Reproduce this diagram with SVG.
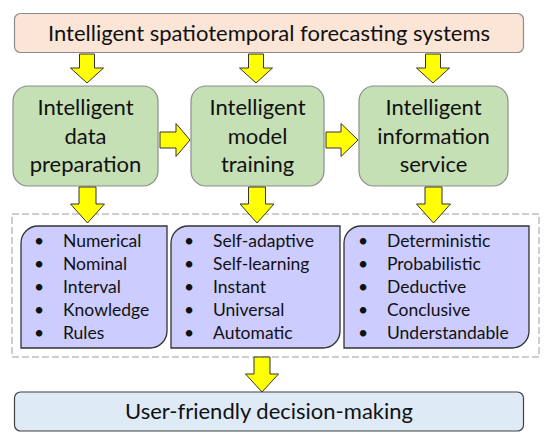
<svg xmlns="http://www.w3.org/2000/svg" width="554" height="444" viewBox="0 0 554 444">
<style>
text{font-family:Lato,"Open Sans","Liberation Sans",sans-serif;fill:#111;}
.big{font-size:22px;text-anchor:middle;}
.mid{font-size:22px;text-anchor:middle;}
.li{font-size:17.5px;}
.b{text-anchor:middle;}
.top{fill:#FBE5D6;stroke:#8C8C8C;stroke-width:1.2;}
.green{fill:#C5E0B4;stroke:#8C8C8C;stroke-width:1.2;}
.purple{fill:#CCCCFF;stroke:#333;stroke-width:1.3;}
.bottom{fill:#DEEBF7;stroke:#404040;stroke-width:1.2;}
.arrow{fill:#FFFF00;stroke:#333;stroke-width:1;stroke-linejoin:miter;}
.dash{fill:none;stroke:#BFBFBF;stroke-width:1.5;stroke-dasharray:7 3;}
</style>
<rect width="554" height="444" fill="#fff"/>
<g id="top-node">
<rect class="top" x="14.5" y="13.5" width="509" height="39" rx="6"/>
<text class="big" x="269" y="40.5">Intelligent spatiotemporal forecasting systems</text>
</g>
<g id="data-preparation">
<rect class="green" x="13" y="86" width="145" height="100" rx="15"/>
<text class="mid" x="85.5" y="115">Intelligent</text>
<text class="mid" x="85.5" y="143.5">data</text>
<text class="mid" x="85.5" y="172">preparation</text>
</g>
<g id="model-training">
<rect class="green" x="191" y="86" width="133" height="100" rx="15"/>
<text class="mid" x="257.5" y="115">Intelligent</text>
<text class="mid" x="257.5" y="143.5">model</text>
<text class="mid" x="257.5" y="172">training</text>
</g>
<g id="information-service">
<rect class="green" x="359" y="86" width="149" height="100" rx="15"/>
<text class="mid" x="433.5" y="115">Intelligent</text>
<text class="mid" x="433.5" y="143.5">information</text>
<text class="mid" x="433.5" y="172">service</text>
</g>
<g id="group-box">
<rect class="dash" x="12" y="214" width="527" height="143"/>
</g>
<g id="data-types">
<path class="purple" d="M38 226H167V331A17 17 0 0 1 150 348H21V243A17 17 0 0 1 38 226Z"/>
<g class="li">
<text class="b" x="39" y="247">•</text><text x="63" y="247">Numerical</text>
<text class="b" x="39" y="270">•</text><text x="63" y="270">Nominal</text>
<text class="b" x="39" y="293">•</text><text x="63" y="293">Interval</text>
<text class="b" x="39" y="316">•</text><text x="63" y="316">Knowledge</text>
<text class="b" x="39" y="339">•</text><text x="63" y="339">Rules</text>
</g>
</g>
<g id="model-types">
<path class="purple" d="M188 226H340V331A17 17 0 0 1 323 348H171V243A17 17 0 0 1 188 226Z"/>
<g class="li">
<text class="b" x="189" y="247">•</text><text x="213" y="247">Self-adaptive</text>
<text class="b" x="189" y="270">•</text><text x="213" y="270">Self-learning</text>
<text class="b" x="189" y="293">•</text><text x="213" y="293">Instant</text>
<text class="b" x="189" y="316">•</text><text x="213" y="316">Universal</text>
<text class="b" x="189" y="339">•</text><text x="213" y="339">Automatic</text>
</g>
</g>
<g id="service-types">
<path class="purple" d="M361 226H529V331A17 17 0 0 1 512 348H344V243A17 17 0 0 1 361 226Z"/>
<g class="li">
<text class="b" x="363" y="247">•</text><text x="387" y="247">Deterministic</text>
<text class="b" x="363" y="270">•</text><text x="387" y="270">Probabilistic</text>
<text class="b" x="363" y="293">•</text><text x="387" y="293">Deductive</text>
<text class="b" x="363" y="316">•</text><text x="387" y="316">Conclusive</text>
<text class="b" x="363" y="339">•</text><text x="387" y="339">Understandable</text>
</g>
</g>
<g id="decision-node">
<rect class="bottom" x="14.5" y="392" width="509" height="39" rx="6"/>
<text class="big" x="269" y="419">User-friendly decision-making</text>
</g>
<g id="connectors">
<polygon class="arrow" points="79.5,54 94.5,54 94.5,68 103.5,68 87,83 70.5,68 79.5,68"/>
<polygon class="arrow" points="248.5,54 263.5,54 263.5,68 272.5,68 256,83 239.5,68 248.5,68"/>
<polygon class="arrow" points="425.5,54 440.5,54 440.5,68 449.5,68 433,83 416.5,68 425.5,68"/>
<polygon class="arrow" points="160,132 176,132 176,123.5 190,140 176,156.5 176,148 160,148"/>
<polygon class="arrow" points="326,132 341,132 341,123.5 358,140 341,156.5 341,148 326,148"/>
<polygon class="arrow" points="79,187 96,187 96,204 104.5,204 87.5,223 70.5,204 79,204"/>
<polygon class="arrow" points="248.5,187 265.5,187 265.5,204 274,204 257,223 240,204 248.5,204"/>
<polygon class="arrow" points="425,187 442,187 442,204 450.5,204 433.5,223 416.5,204 425,204"/>
<polygon class="arrow" points="254,357 270,357 270,374 278.5,374 262,392 245.5,374 254,374"/>
</g>
</svg>
